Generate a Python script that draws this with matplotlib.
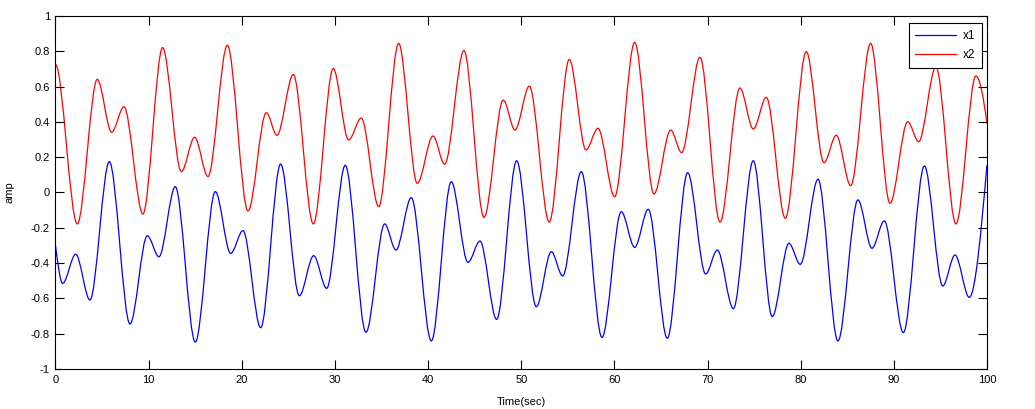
import matplotlib
matplotlib.use("Agg")
import matplotlib.pyplot as plt
from matplotlib.path import Path
from matplotlib.patches import PathPatch
from matplotlib.lines import Line2D
import numpy as np

# ---- data (turning points of each curve) ----
x1_t = [0, 0.77, 2.17, 3.70, 5.78, 8.0, 9.86, 11.11, 12.86, 15.01, 17.16, 18.81,
        20.13, 22.03, 24.17, 26.18, 27.72, 29.11, 31.11, 33.33, 35.34, 36.55, 38.2,
        40.35, 42.49, 44.28, 45.57, 47.36, 49.51, 51.62, 53.23, 54.45, 56.45, 58.67,
        60.74, 62.18, 63.64, 65.68, 67.87, 69.8, 71.05, 72.77, 74.91, 76.95, 78.74,
        79.96, 81.86, 84.0, 86.15, 87.65, 88.98, 91.02, 93.28, 95.25, 96.57, 98.1, 100]
x1_v = [-0.30, -0.515, -0.350, -0.609, 0.175, -0.745, -0.245, -0.364, 0.033, -0.847,
        0.005, -0.345, -0.216, -0.766, 0.161, -0.585, -0.358, -0.543, 0.154, -0.792,
        -0.178, -0.326, -0.029, -0.841, 0.061, -0.396, -0.275, -0.719, 0.180, -0.647,
        -0.335, -0.473, 0.118, -0.821, -0.109, -0.311, -0.095, -0.826, 0.112, -0.462,
        -0.326, -0.658, 0.180, -0.703, -0.288, -0.407, 0.075, -0.841, -0.042, -0.316,
        -0.161, -0.794, 0.150, -0.530, -0.354, -0.594, 0.156]
x1_end_slopes = (-0.4, 0.6)

x2_t = [0, 2.34, 4.49, 6.03, 7.35, 9.39, 11.5, 13.51, 14.94, 16.37, 18.45, 20.67,
        22.63, 23.78, 25.53, 27.68, 29.82, 31.47, 32.83, 34.70, 36.84, 38.84, 40.53,
        41.78, 43.85, 46.0, 48.07, 49.33, 50.87, 53.01, 55.16, 56.95, 58.24, 60.03,
        62.18, 64.25, 66.04, 67.22, 69.19, 71.34, 73.48, 74.91, 76.31, 78.35, 80.6,
        82.5, 83.82, 85.37, 87.51, 89.59, 91.49, 92.67, 94.52, 96.67, 98.81, 100]
x2_v = [0.725, -0.178, 0.641, 0.341, 0.486, -0.122, 0.821, 0.118, 0.313, 0.090, 0.834,
        -0.105, 0.452, 0.324, 0.669, -0.178, 0.702, 0.297, 0.422, -0.080, 0.845, 0.052,
        0.320, 0.160, 0.804, -0.141, 0.524, 0.354, 0.603, -0.167, 0.754, 0.241, 0.364,
        -0.024, 0.851, -0.008, 0.354, 0.226, 0.766, -0.167, 0.592, 0.360, 0.539, -0.146,
        0.798, 0.169, 0.324, 0.039, 0.845, -0.061, 0.401, 0.288, 0.713, -0.178, 0.660, 0.39]
x2_end_slopes = (0.0, -0.4)

series_names = ["x1", "x2"]
x_ticks = [0, 10, 20, 30, 40, 50, 60, 70, 80, 90, 100]
y_ticks = [-1, -0.8, -0.6, -0.4, -0.2, 0, 0.2, 0.4, 0.6, 0.8, 1]
y_tick_labels = ["-1", "-0.8", "-0.6", "-0.4", "-0.2", "0", "0.2", "0.4", "0.6", "0.8", "1"]


def smooth_path(t, v, end_slopes):
    """Cubic Bezier path through turning points (flat tangent at each)."""
    n = len(t)
    m = [0.0] * n
    m[0], m[-1] = end_slopes
    verts = [(t[0], v[0])]
    codes = [Path.MOVETO]
    for i in range(n - 1):
        dx = t[i + 1] - t[i]
        verts += [(t[i] + dx / 3, v[i] + m[i] * dx / 3),
                  (t[i + 1] - dx / 3, v[i + 1] - m[i + 1] * dx / 3),
                  (t[i + 1], v[i + 1])]
        codes += [Path.CURVE4] * 3
    return Path(verts, codes)


plt.rcParams['font.family'] = ['Liberation Sans', 'DejaVu Sans']
plt.rcParams['font.size'] = 8

fig = plt.figure(figsize=(10.35, 4.09), dpi=100)
ax = fig.add_axes([0.0536, 0.0978, 0.9, 0.8631])

colors = ["#0000ff", "#ff0000"]
for (t, v, s), c in zip([(x1_t, x1_v, x1_end_slopes), (x2_t, x2_v, x2_end_slopes)], colors):
    ax.add_patch(PathPatch(smooth_path(t, v, s), fill=False, edgecolor=c, lw=0.9))

ax.set_xlim(0, 100)
ax.set_ylim(-1, 1)
ax.set_xticks(x_ticks)
ax.set_xticklabels([str(x) for x in x_ticks])
ax.set_yticks(y_ticks)
ax.set_yticklabels(y_tick_labels)
ax.tick_params(direction='in', length=6.5, width=0.8, top=True, right=True, pad=4,
               labelsize=8)
for sp in ax.spines.values():
    sp.set_linewidth(0.8)

ax.set_xlabel("Time(sec)", fontsize=8)
ax.set_ylabel("amp", fontsize=8)
ax.xaxis.set_label_coords(0.5, -0.079)
ax.yaxis.set_label_coords(-0.0435, 0.5)

handles = [Line2D([], [], color=c, lw=0.9) for c in colors]
leg = ax.legend(handles, series_names, loc='upper right', bbox_to_anchor=(0.9943, 0.9793),
                borderaxespad=0, fancybox=False, framealpha=1, edgecolor='black',
                handlelength=3.4, handletextpad=0.6, fontsize=8.5, borderpad=0.55,
                labelspacing=0.65)
leg.get_frame().set_linewidth(0.8)

fig.savefig("out.png", dpi=100)
